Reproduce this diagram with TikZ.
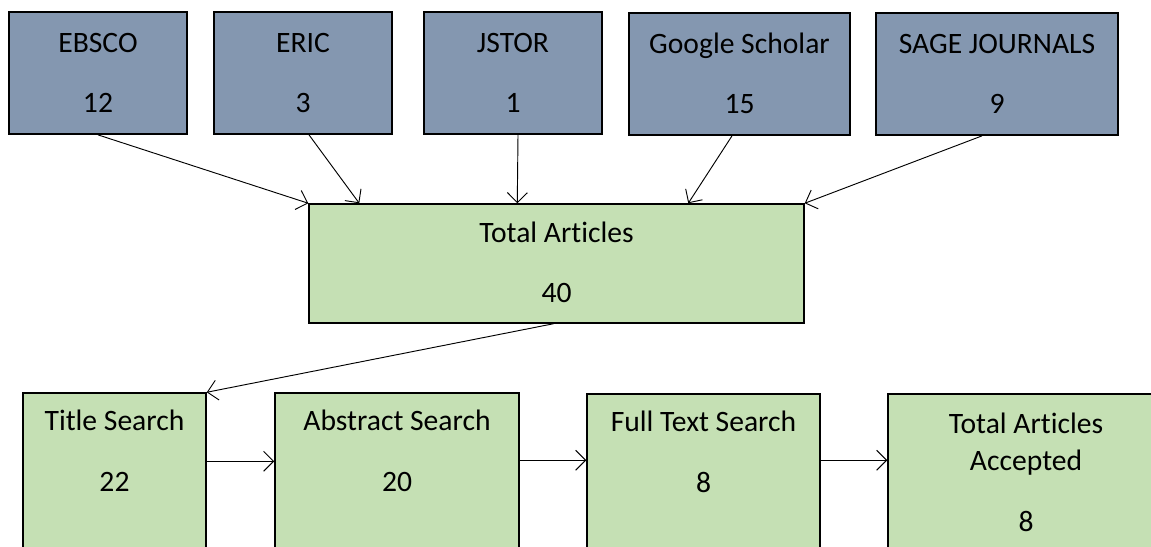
\documentclass[tikz,border=0pt]{standalone}
\usepackage{fontspec}
\setmainfont[Ligatures={NoCommon}]{Carlito}
\usetikzlibrary{arrows.meta,calc}
\definecolor{bluegray}{HTML}{8497B0}
\definecolor{lgreen}{HTML}{C5E0B4}
\newcommand\mytop{\rule{0pt}{16pt}}
\newcommand\mybot{\rule[-2.5pt]{0pt}{2.5pt}}
\begin{document}
\begin{tikzpicture}[x=0.75pt,y=-0.75pt,
  wh/.style 2 args={minimum width=#1*0.75pt, minimum height=#2*0.75pt},
  box/.style={draw=black, line width=1.1pt, inner sep=0pt, align=center,
    font=\fontsize{22.2pt}{27.75pt}\selectfont},
  srcbox/.style={box, fill=bluegray, line width=1.3pt},
  grnbox/.style={box, fill=lgreen},
  txt/.style={inner sep=0pt, align=center, anchor=north,
    font=\fontsize{22.2pt}{27.75pt}\selectfont},
  arr/.style={-{Straight Barb[length=7.5pt,width=15pt]}, line width=0.7pt}]
\useasboundingbox[fill=white] (0,0) rectangle (1151,546);
\clip (0,0) rectangle (1151,546);

% source boxes
\node[srcbox, wh={178}{122}] (ebsco) at (98,73)    {\mytop EBSCO\\[17.25pt]12\mybot};
\node[srcbox, wh={178}{122}] (eric)  at (303,73)   {\mytop ERIC\\[17.25pt]3\mybot};
\node[srcbox, wh={178}{122}] (jstor) at (513,73)   {\mytop JSTOR\\[17.25pt]1\mybot};
\node[srcbox, wh={221}{122}] (gs)    at (739.5,74) {\mytop Google Scholar\\[17.25pt]15\mybot};
\node[srcbox, wh={242}{122}] (sage)  at (997,74)   {\mytop SAGE JOURNALS\\[17.25pt]9\mybot};

% total
\node[grnbox, wh={495}{119}] (total) at (556.5,263.5) {\mytop Total Articles\\[17.25pt]40\mybot};

% lower boxes
\node[grnbox, wh={183}{247}] (ts)  at (114.5,516.5) {};
\node[grnbox, wh={244}{247}] (as)  at (397,516.5)   {};
\node[grnbox, wh={233}{247}] (fts) at (703.5,517.5) {};
\node[grnbox, wh={276}{247}] (acc) at (1026,517.5)  {};

\node[txt] (tstext)  at ($(ts.north)+(0,16.7)$)  {\mytop Title Search\\[18pt]22};
\node[txt] (astext)  at ($(as.north)+(0,16.7)$)  {\mytop Abstract Search\\[18pt]20};
\node[txt] (ftstext) at ($(fts.north)+(0,16.7)$) {\mytop Full Text Search\\[18pt]8};
\node[txt] (acctext) at ($(acc.north)+(0,18.7)$) {\mytop Total Articles\\Accepted\\[18pt]8};

% connectors
\draw[arr] (ebsco.south) -- (total.north west);
\draw[arr] ($(eric.south)+(6,0)$) -- ($(total.north west)+(51,0)$);
\draw[arr] ($(jstor.south)+(5,0)$) -- ($(total.north west)+(209,0)$);
\draw[arr] ($(gs.south)+(-7.5,0)$) -- ($(total.north west)+(380,0)$);
\draw[arr] ($(sage.south)+(-15,0)$) -- (total.north east);
\draw[arr] ($(total.south)+(-3,0)$) -- (ts.north east);
\draw[arr] ($(ts.north east)+(0,69)$) -- ($(as.north west)+(0,69)$);
\draw[arr] ($(as.north east)+(0,68)$) -- ($(fts.north west)+(0,67)$);
\draw[arr] ($(fts.north east)+(0,67)$) -- ($(acc.north west)+(0,67)$);
\end{tikzpicture}
\end{document}
